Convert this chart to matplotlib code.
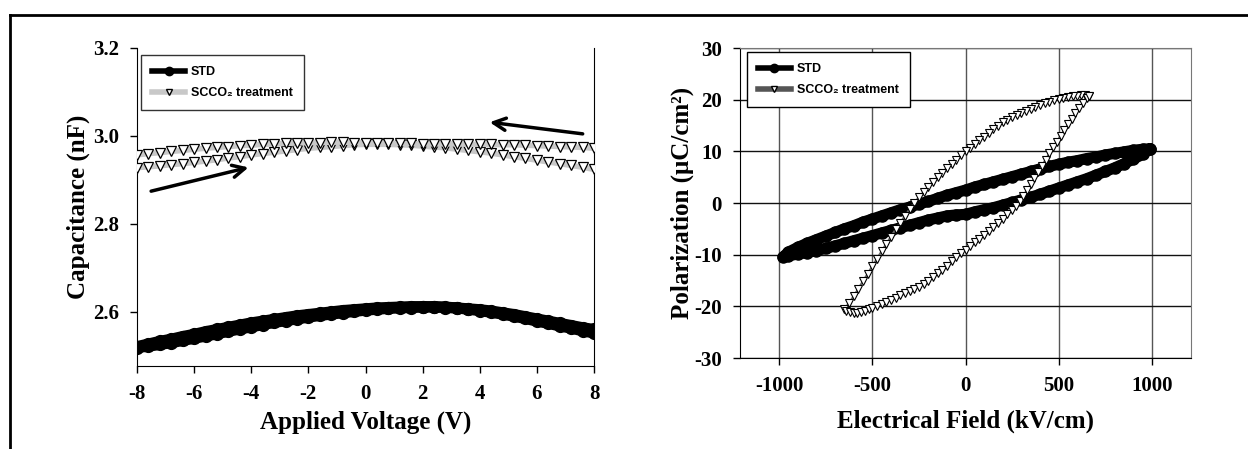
import numpy as np
import matplotlib.pyplot as plt
from matplotlib.lines import Line2D

# ---- C-V data (sweep grid -8..8 V, 0.4 V step) ----
volt = np.linspace(-8, 8, 41)

std_cv_up = [2.519, 2.522, 2.526, 2.530, 2.535, 2.540, 2.545, 2.550, 2.556, 2.561,
             2.566, 2.571, 2.576, 2.580, 2.584, 2.588, 2.592, 2.595, 2.598, 2.601,
             2.604, 2.606, 2.608, 2.609, 2.610, 2.611, 2.611, 2.610, 2.609, 2.607,
             2.605, 2.602, 2.598, 2.594, 2.589, 2.584, 2.579, 2.574, 2.569, 2.564, 2.560]
std_cv_down = [2.521, 2.527, 2.533, 2.538, 2.544, 2.549, 2.555, 2.560, 2.565, 2.570,
               2.575, 2.579, 2.583, 2.587, 2.591, 2.594, 2.597, 2.600, 2.603, 2.605,
               2.607, 2.609, 2.610, 2.611, 2.612, 2.612, 2.612, 2.611, 2.609, 2.606,
               2.603, 2.599, 2.595, 2.590, 2.585, 2.579, 2.574, 2.568, 2.563, 2.557, 2.552]

sc_cv_up = [2.928, 2.930, 2.932, 2.935, 2.937, 2.940, 2.943, 2.946, 2.950, 2.953,
            2.957, 2.960, 2.963, 2.966, 2.969, 2.972, 2.974, 2.976, 2.978, 2.980,
            2.981, 2.981, 2.981, 2.980, 2.979, 2.977, 2.975, 2.973, 2.970, 2.967,
            2.964, 2.961, 2.957, 2.953, 2.949, 2.945, 2.941, 2.937, 2.933, 2.929, 2.924]
sc_cv_down = [2.957, 2.960, 2.962, 2.965, 2.967, 2.970, 2.972, 2.974, 2.976, 2.978,
              2.979, 2.981, 2.982, 2.983, 2.984, 2.985, 2.985, 2.986, 2.986, 2.985,
              2.985, 2.984, 2.984, 2.983, 2.983, 2.982, 2.982, 2.982, 2.982, 2.981,
              2.981, 2.981, 2.980, 2.980, 2.979, 2.978, 2.977, 2.976, 2.975, 2.974, 2.972]

# ---- P-E data ----
std_e = [990, 950, 900, 850, 800, 750, 700, 650, 600, 550, 500, 450, 400, 350, 300, 250,
         200, 150, 100, 50, 0, -50, -100, -150, -200, -250, -300, -350, -400, -450, -500,
         -550, -600, -650, -700, -750, -800, -850, -900, -950, -980,
         -950, -900, -850, -800, -750, -700, -650, -600, -550, -500, -450, -400, -350,
         -300, -250, -200, -150, -100, -50, 0, 50, 100, 150, 200, 250, 300, 350, 400,
         450, 500, 550, 600, 650, 700, 750, 800, 850, 900, 950, 990]
std_p = [10.5, 10.4, 10.2, 9.9, 9.6, 9.3, 8.9, 8.6, 8.2, 7.9, 7.5, 7.1, 6.6, 6.1, 5.6, 5.1,
         4.6, 4.1, 3.6, 3.1, 2.5, 2.0, 1.5, 0.9, 0.3, -0.2, -0.8, -1.3, -1.9, -2.5, -3.1,
         -3.7, -4.4, -5.0, -5.7, -6.4, -7.1, -7.8, -8.6, -9.5, -10.5,
         -10.2, -9.9, -9.6, -9.2, -8.8, -8.3, -7.8, -7.3, -6.8, -6.3, -5.8, -5.3, -4.8,
         -4.3, -3.8, -3.3, -2.9, -2.5, -2.3, -2.2, -1.7, -1.3, -0.9, -0.4, 0.1, 0.6, 1.1,
         1.7, 2.3, 2.9, 3.5, 4.1, 4.7, 5.4, 6.1, 6.8, 7.6, 8.5, 9.4, 10.5]

sc_e = [660, 640, 620, 600, 575, 550, 525, 500, 475, 450, 425, 400, 375, 350, 325, 300,
        275, 250, 225, 200, 175, 150, 125, 100, 75, 50, 25, 0, -25, -50, -75, -100,
        -125, -150, -175, -200, -225, -250, -275, -300, -325, -350, -375, -400, -425,
        -450, -475, -500, -525, -550, -575, -600, -625, -650,
        -640, -620, -600, -580, -560, -540, -520, -500, -475, -450, -425, -400, -375,
        -350, -325, -300, -275, -250, -225, -200, -175, -150, -125, -100, -75, -50, -25,
        0, 25, 50, 75, 100, 125, 150, 175, 200, 225, 250, 270, 290, 310, 330, 350, 370,
        390, 410, 430, 450, 470, 490, 510, 530, 550, 570, 590, 610, 630, 650, 660]
sc_p = [20.8, 20.9, 20.9, 20.8, 20.7, 20.6, 20.4, 20.2, 19.9, 19.6, 19.3, 19.0, 18.6, 18.2,
        17.8, 17.4, 17.0, 16.6, 16.1, 15.6, 15.0, 14.3, 13.6, 12.8, 12.1, 11.4, 10.7, 10.0,
        9.2, 8.4, 7.6, 6.8, 5.9, 5.0, 4.1, 3.1, 2.1, 1.1, 0.0, -1.2, -2.5, -3.8, -5.1,
        -6.5, -7.9, -9.3, -10.8, -12.2, -13.7, -15.1, -16.6, -18.0, -19.4, -20.5,
        -20.9, -21.1, -21.2, -21.2, -21.1, -20.9, -20.6, -20.3, -19.9, -19.5, -19.1, -18.7,
        -18.3, -17.9, -17.5, -17.1, -16.7, -16.2, -15.6, -15.0, -14.3, -13.6, -12.9, -12.1,
        -11.3, -10.5, -9.7, -9.0, -8.3, -7.6, -6.9, -6.2, -5.5, -4.7, -3.9, -3.1, -2.2,
        -1.3, -0.5, 0.4, 1.4, 2.5, 3.6, 4.8, 6.0, 7.2, 8.4, 9.6, 10.8, 11.9, 13.0, 14.1,
        15.2, 16.3, 17.4, 18.4, 19.4, 20.3, 20.7]

cv_xticks = [-8, -6, -4, -2, 0, 2, 4, 6, 8]
cv_yticks = [2.6, 2.8, 3.0, 3.2]
pe_xticks = [-1000, -500, 0, 500, 1000]
pe_yticks = [-30, -20, -10, 0, 10, 20, 30]

serif = ['Liberation Serif', 'DejaVu Serif']
sans = ['Liberation Sans', 'DejaVu Sans']

fig = plt.figure(figsize=(12.48, 4.49), dpi=100)

# outer frame (top and left edges)
fig.add_artist(Line2D([10/1248, 1], [1 - 15/449, 1 - 15/449], color='black', lw=2))
fig.add_artist(Line2D([10/1248, 10/1248], [0, 1 - 15/449], color='black', lw=2))

# ---------------- left: C-V ----------------
ax1 = fig.add_axes([137/1248, 1 - 366/449, 457/1248, 318/449])
for c in (std_cv_up, std_cv_down):
    ax1.plot(volt, c, color='black', lw=8, marker='o', ms=8.5, mfc='black', mec='black',
             solid_capstyle='round', zorder=3)
for c in (sc_cv_up, sc_cv_down):
    ax1.plot(volt, c, color='#c8c8c8', lw=4, marker='v', ms=6.5, mfc='white',
             mec='black', mew=0.9, zorder=3)

ax1.annotate('', xy=(-4.0, 2.930), xytext=(-7.6, 2.873),
             arrowprops=dict(arrowstyle='->', lw=2.5, color='black', mutation_scale=22))
ax1.annotate('', xy=(4.25, 3.032), xytext=(7.7, 3.004),
             arrowprops=dict(arrowstyle='->', lw=2.5, color='black', mutation_scale=22))

ax1.set_xlim(-8, 8)
ax1.set_ylim(2.477, 3.2)
ax1.set_xticks(cv_xticks)
ax1.set_xticklabels([str(t) for t in cv_xticks])
ax1.set_yticks(cv_yticks)
ax1.set_yticklabels(['%.1f' % t for t in cv_yticks])
ax1.spines['top'].set_visible(False)
ax1.set_xlabel('Applied Voltage (V)', family=serif, fontweight='bold', fontsize=18,
               labelpad=5)
ax1.set_ylabel('Capacitance (nF)', family=serif, fontweight='bold', fontsize=18,
               labelpad=2)

h1 = [Line2D([], [], color='black', lw=4, marker='o', ms=6, mfc='black'),
      Line2D([], [], color='#c8c8c8', lw=4, marker='v', ms=5, mfc='white', mec='black')]
leg1 = ax1.legend(h1, ['STD', 'SCCO₂ treatment'], loc='upper left',
                  bbox_to_anchor=(0.009, 0.978), borderaxespad=0, frameon=True,
                  fancybox=False, edgecolor='black', handlelength=2.6, handletextpad=0.5,
                  borderpad=0.9, labelspacing=0.7,
                  prop=dict(family=sans, weight='bold', size=9))
leg1.get_frame().set_linewidth(1.0)

# ---------------- right: P-E ----------------
ax2 = fig.add_axes([740/1248, 1 - 358/449, 451/1248, 310/449])
ax2.plot(std_e, std_p, color='black', lw=8, marker='o', ms=8, mfc='black',
         mec='black', solid_capstyle='round', zorder=3)
ax2.plot(sc_e, sc_p, color='#666666', lw=1.5, marker='v', ms=6, mfc='white',
         mec='black', mew=0.8, zorder=4)

ax2.set_xlim(-1210, 1210)
ax2.set_ylim(-30, 30)
ax2.set_xticks(pe_xticks)
ax2.set_xticklabels([str(t) for t in pe_xticks])
ax2.set_yticks(pe_yticks)
ax2.set_yticklabels([str(t) for t in pe_yticks])
ax2.xaxis.grid(True, color='#555555', lw=1.0)
ax2.yaxis.grid(True, color='#111111', lw=1.0)
ax2.set_axisbelow(True)
for s in ('top', 'right'):
    ax2.spines[s].set_color('#777777')
ax2.set_xlabel('Electrical Field (kV/cm)', family=serif, fontweight='bold', fontsize=18,
               labelpad=10)
ax2.set_ylabel('Polarization (μC/cm²)', family=serif,
               fontweight='bold', fontsize=18, labelpad=0)

h2 = [Line2D([], [], color='black', lw=4, marker='o', ms=6, mfc='black'),
      Line2D([], [], color='#555555', lw=4, marker='v', ms=5, mfc='white', mec='black')]
leg2 = ax2.legend(h2, ['STD', 'SCCO₂ treatment'], loc='upper left',
                  bbox_to_anchor=(0.015, 0.987), borderaxespad=0, frameon=True,
                  fancybox=False, edgecolor='black', framealpha=1, handlelength=2.6,
                  handletextpad=0.5, borderpad=0.9, labelspacing=0.7,
                  prop=dict(family=sans, weight='bold', size=9))
leg2.get_frame().set_linewidth(1.0)

for ax in (ax1, ax2):
    ax.tick_params(direction='out', length=5, width=1, pad=8)
    for lab in ax.get_xticklabels() + ax.get_yticklabels():
        lab.set_family(serif)
        lab.set_fontweight('bold')
        lab.set_fontsize(15)

fig.savefig('out.png', dpi=100)
